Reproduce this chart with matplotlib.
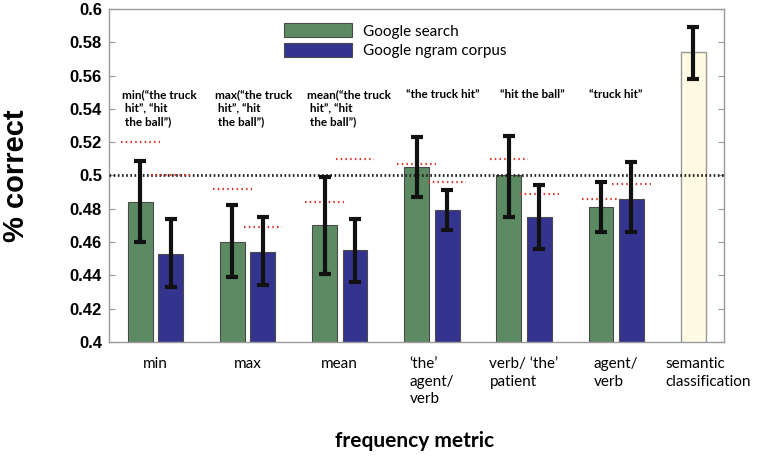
import numpy as np
import matplotlib.pyplot as plt
from matplotlib.ticker import FormatStrFormatter

plt.rcParams['lines.scale_dashes'] = False

# values
metrics = ["min", "max", "mean", "\u2018the\u2019\nagent/\nverb",
           "verb/ \u2018the\u2019\npatient", "agent/\nverb", "semantic\nclassification"]
google = [0.484, 0.460, 0.470, 0.505, 0.500, 0.481]
google_lo = [0.460, 0.439, 0.441, 0.487, 0.475, 0.466]
google_hi = [0.509, 0.482, 0.499, 0.523, 0.524, 0.496]
ngram = [0.453, 0.454, 0.455, 0.479, 0.475, 0.486]
ngram_lo = [0.433, 0.434, 0.436, 0.467, 0.456, 0.466]
ngram_hi = [0.474, 0.475, 0.474, 0.491, 0.494, 0.508]
chance_google = [0.520, 0.492, 0.484, 0.507, 0.510, 0.486]
chance_ngram = [0.500, 0.469, 0.510, 0.496, 0.489, 0.495]
semantic = 0.574
semantic_lo = 0.558
semantic_hi = 0.589
notes = ["min(\u201cthe truck\n hit\u201d, \u201chit\n the ball\u201d)",
         "max(\u201cthe truck\n hit\u201d, \u201chit\n the ball\u201d)",
         "mean(\u201cthe truck\n hit\u201d, \u201chit\n the ball\u201d)",
         "\u201cthe truck hit\u201d", "\u201chit the ball\u201d", "\u201ctruck hit\u201d"]

green = '#5b8a63'
blue = '#34348f'
cream = '#fffbe3'
w = 0.27
off = 0.165

fig = plt.figure(figsize=(7.64, 4.59), dpi=100)
ax = fig.add_axes([0.1427, 0.2549, 0.8049, 0.7255])

x = np.arange(6)
ax.bar(x - off, google, w, color=green, edgecolor='#4a4a4a', lw=0.8, label='Google search', zorder=2)
ax.bar(x + off, ngram, w, color=blue, edgecolor='#4a4a4a', lw=0.8, label='Google ngram corpus', zorder=2)
ax.bar(6 - off, semantic, w, color=cream, edgecolor='#999999', lw=1, zorder=2)

g = np.array(google)
n = np.array(ngram)
ax.errorbar(x - off, g, yerr=[g - np.array(google_lo), np.array(google_hi) - g],
            fmt='none', ecolor='#111111', elinewidth=3, capsize=4, capthick=3, zorder=4)
ax.errorbar(x + off, n, yerr=[n - np.array(ngram_lo), np.array(ngram_hi) - n],
            fmt='none', ecolor='#111111', elinewidth=3, capsize=4, capthick=3, zorder=4)
ax.errorbar([6 - off], [semantic], yerr=[[semantic - semantic_lo], [semantic_hi - semantic]],
            fmt='none', ecolor='#111111', elinewidth=3, capsize=4, capthick=3, zorder=4)

ax.axhline(0.5, color='#222222', lw=2, ls=(0, (1.2, 1.8)), zorder=3)
ax.hlines(chance_google, x - off - 0.21, x - off + 0.21, color='#e0392e', lw=1.6,
          linestyles=[(0, (1.1, 2.3))], zorder=3)
ax.hlines(chance_ngram, x + off - 0.21, x + off + 0.21, color='#e0392e', lw=1.6,
          linestyles=[(0, (1.1, 2.3))], zorder=3)

for i, t in enumerate(notes):
    if i < 3:
        ax.text(i - 0.36, 0.552, t, ha='left', va='top', fontsize=8.5, fontweight='bold',
                family='Lato', linespacing=1.3)
    else:
        ax.text(i + [0.12, 0.09, 0.0][i - 3], 0.552, t, ha='center', va='top', fontsize=8.5,
                fontweight='bold', family='Lato')

ax.set_xlim(-0.505, 6.17)
ax.set_ylim(0.4, 0.6)
ax.set_yticks(np.arange(0.4, 0.601, 0.02))
ax.yaxis.set_major_formatter(FormatStrFormatter('%g'))
ax.set_xticks(np.arange(7))
ax.set_xticklabels(metrics, family='Lato', fontsize=11, linespacing=1.3,
                   multialignment='left', va='top')
ax.tick_params(axis='x', length=0, pad=11)
ax.tick_params(axis='y', direction='in', length=4, color='#999999', right=True,
               labelsize=12, pad=5)
for lab in ax.get_yticklabels():
    lab.set_fontweight('bold')
    lab.set_family('Liberation Sans')
for s in ax.spines.values():
    s.set_color('#999999')
    s.set_linewidth(1)

ax.set_ylabel('% correct', fontsize=21, fontweight='bold', family='Liberation Sans')
ax.yaxis.set_label_coords(-0.128, 0.5)
fig.text(0.543, 0.039, 'frequency metric', ha='center', va='center', fontsize=15,
         fontweight='bold', family='Lato')

ax.legend(loc='upper left', bbox_to_anchor=(0.285, 0.957), frameon=False, prop={'family': 'Lato', 'size': 11},
          handlelength=4.45, handleheight=1.05, labelspacing=0.3, handletextpad=0.72, borderpad=0,
          borderaxespad=0)

fig.savefig('out.png', dpi=100)
